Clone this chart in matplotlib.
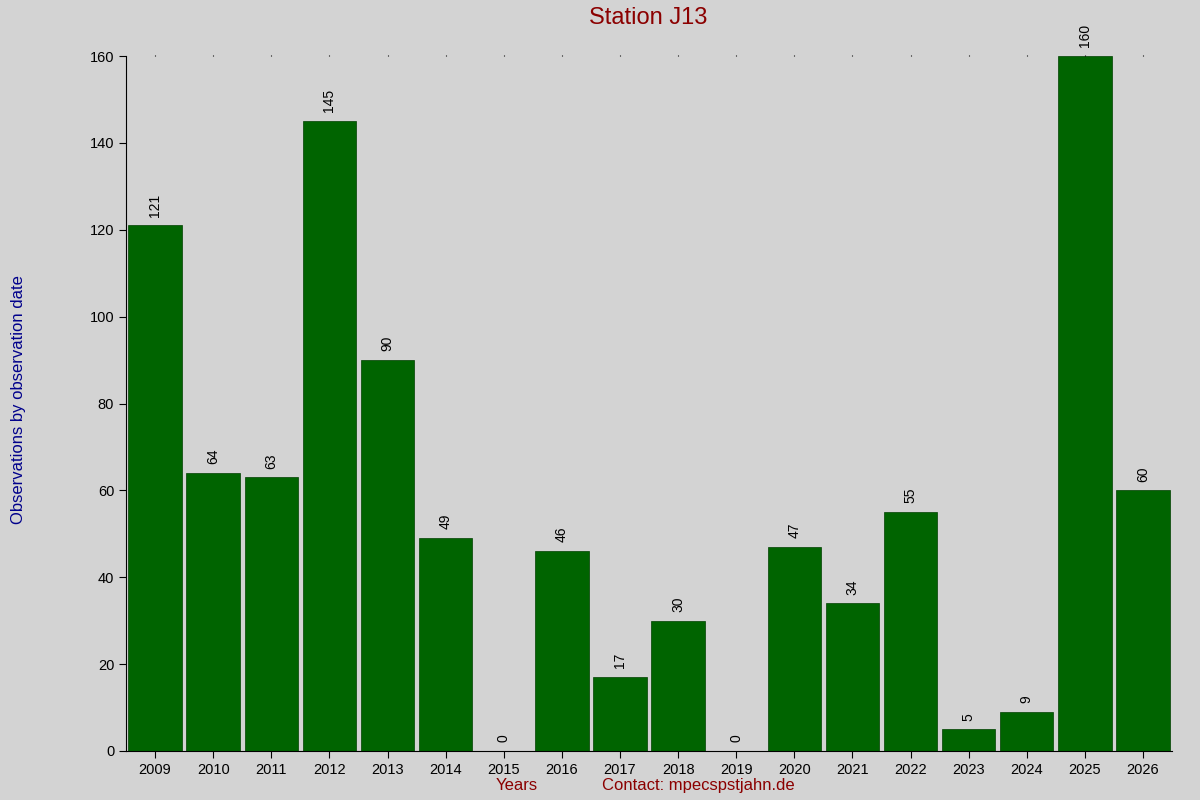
import matplotlib
matplotlib.use("Agg")
import matplotlib.pyplot as plt

years = [str(y) for y in range(2009, 2027)]
values = [121, 64, 63, 145, 90, 49, 0, 46, 17, 30, 0, 47, 34, 55, 5, 9, 160, 60]

bg = "#d3d3d3"
fig = plt.figure(figsize=(12, 8), dpi=100, facecolor=bg)
ax = fig.add_axes([0.105, 0.06125, 0.8717, 0.86875], facecolor=bg)
x = list(range(len(years)))
ax.bar(x, values, width=0.92, color="#006400", edgecolor="#004000", linewidth=0.5)
for xi, v in zip(x, values):
    ax.text(xi, v + 2, str(v), rotation=90, ha="center", va="bottom", fontsize=10, family="Liberation Sans")
ax.set_xlim(-0.5, len(years) - 0.5)
ax.set_ylim(0, 160)
ax.set_xticks(x)
ax.set_xticklabels(years, family="Liberation Sans", fontsize=10.5)
ax.set_yticks(range(0, 161, 20))
for lab in ax.get_yticklabels():
    lab.set_family("Liberation Sans"); lab.set_fontsize(10.5)
ax.tick_params(top=True, length=5, direction="out")
ax.tick_params(axis="x", which="both", top=True, labeltop=False)
ax.xaxis.set_tick_params(which="major", top=True)
for s in ["top", "right"]:
    ax.spines[s].set_visible(False)
for t in ax.xaxis.get_major_ticks():
    t.tick2line.set_markersize(1)
fig.text(0.54, 0.978, "Station J13", ha="center", va="center", color="#8b0000", fontsize=17, family="Liberation Sans")
fig.text(0.009, 0.5, "Observations by observation date", rotation=90, ha="left", va="center", color="#00008b", fontsize=12, family="Liberation Sans")
fig.text(0.431, 0.018, "Years", ha="center", va="center", color="#8b0000", fontsize=12, family="Liberation Sans")
fig.text(0.582, 0.018, "Contact: mpecspstjahn.de", ha="center", va="center", color="#8b0000", fontsize=12, family="Liberation Sans")
fig.savefig("out.png", dpi=100, facecolor=bg)
